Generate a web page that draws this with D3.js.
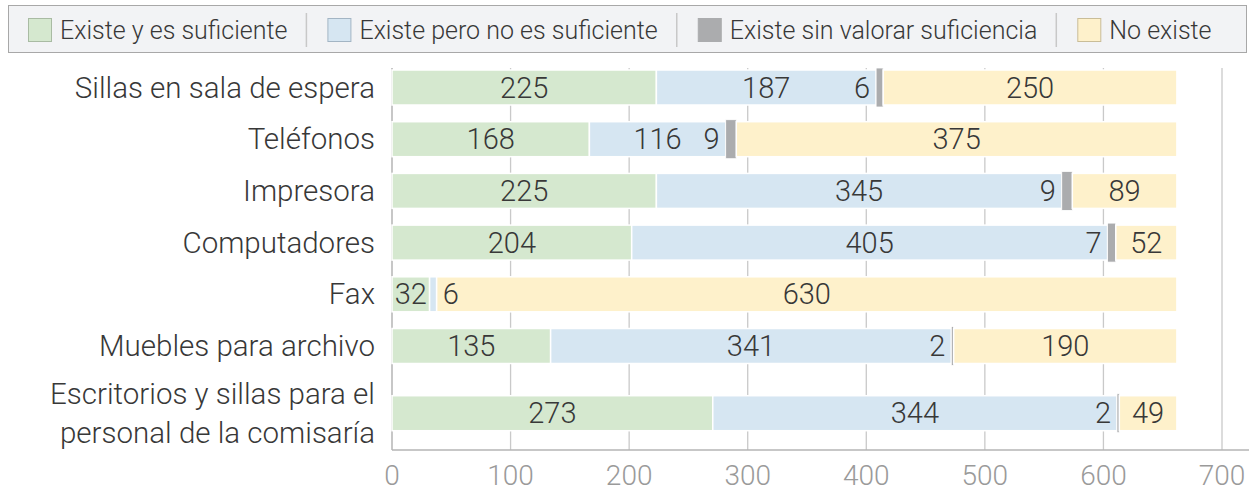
<!DOCTYPE html>
<html>
<head>
<meta charset="utf-8">
<script src="https://cdn.jsdelivr.net/npm/d3@7/dist/d3.min.js"></script>
<style>
  html, body { margin: 0; padding: 0; background: #fff; }
  svg { display: block; }
</style>
</head>
<body>
<div id="chart"></div>
<script>
// ── data ───────────────────────────────────────────────────────────────
var categories = [
    'Sillas en sala de espera',
    'Teléfonos',
    'Impresora',
    'Computadores',
    'Fax',
    'Muebles para archivo',
    'Escritorios y sillas para el\npersonal de la comisaría'
];
var seriesNames = [
    'Existe y es suficiente',
    'Existe pero no es suficiente',
    'Existe sin valorar suficiencia',
    'No existe'
];
var suficiente    = [225, 168, 225, 204, 32, 135, 273];
var noSuficiente  = [187, 116, 345, 405, 6, 341, 344];
var sinValorar    = [6, 9, 9, 7, 0, 2, 2];
var noExiste      = [250, 375, 89, 52, 630, 190, 49];
var xTicks        = [0, 100, 200, 300, 400, 500, 600, 700];

(function () {
    // ── theme ──────────────────────────────────────────────────────────
    var c = {
        fills:    ['#d5e8cf', '#d6e6f2', '#abacae', '#fef1cb'],
        swStroke: ['#a9bba3', '#a3b5c4', '#abacae', '#c9bd98'],
        text:     '#383838',
        tick:     '#9a9a9a',
        grid:     '#c9c9c9',
        axis:     '#b4b4b4',
        legBg:    '#f2f3f5',
        legLine:  '#a8a8a8',
        legSep:   '#c8c8c8'
    };
    var font = 'Roboto, "Liberation Sans", sans-serif';

    // ── geometry ───────────────────────────────────────────────────────
    var W = 1255, H = 492;
    var x0 = 392, x1 = 1222, axisEnd = 1249;
    var plotTop = 68, axisY = 450;
    var barH = 35;

    var series = [suficiente, noSuficiente, sinValorar, noExiste];
    var rows = categories.map(function (cat, i) {
        var lines = cat.split('\n');
        return {
            cat: cat,
            lines: lines,
            weight: 1 + 0.6 * (lines.length - 1),
            values: series.map(function (s) { return s[i]; })
        };
    });
    var acc = 0;
    rows.forEach(function (r) { r.u = acc + r.weight / 2; acc += r.weight; });

    // axis scale, and the (slightly tighter) scale the bars are laid out on
    var x    = d3.scaleLinear().domain([0, 700]).range([x0, x1]);
    var xBar = d3.scaleLinear().domain([0, 700]).range([x0, x0 + 822.5]);
    var y    = d3.scaleLinear().domain([0.5, 5.5]).range([87.5, 346]);

    var svg = d3.select('#chart').append('svg')
        .attr('width', W).attr('height', H)
        .attr('viewBox', '0 0 ' + W + ' ' + H);

    // ── gridlines + axes ───────────────────────────────────────────────
    svg.append('g').selectAll('line').data(xTicks.slice(1)).join('line')
        .attr('x1', function (d) { return x(d); }).attr('x2', function (d) { return x(d); })
        .attr('y1', plotTop).attr('y2', axisY)
        .attr('stroke', c.grid).attr('stroke-width', 1.3);

    svg.append('line')
        .attr('x1', x0).attr('x2', x0).attr('y1', plotTop).attr('y2', axisY)
        .attr('stroke', c.axis).attr('stroke-width', 1.5);
    svg.append('line')
        .attr('x1', x0).attr('x2', axisEnd).attr('y1', axisY).attr('y2', axisY)
        .attr('stroke', c.axis).attr('stroke-width', 1.5);

    svg.append('g').selectAll('text').data(xTicks).join('text')
        .attr('x', function (d) { return x(d); }).attr('y', 485)
        .attr('text-anchor', 'middle')
        .attr('font-family', font).attr('font-weight', 300).attr('font-size', '28px')
        .attr('fill', c.tick)
        .text(function (d) { return d; });

    // ── bars ───────────────────────────────────────────────────────────
    var barG = svg.append('g');
    var labG = svg.append('g');
    rows.forEach(function (r) {
        var cy = y(r.u);
        var start = 0;
        r.values.forEach(function (v, si) {
            var a = start, b = start + v;
            start = b;
            if (!v) return;
            var xa = xBar(a), xb = xBar(b);
            var tall = si === 2 ? 2 : 0;
            barG.append('rect')
                .attr('x', xa).attr('y', cy - barH / 2 - tall)
                .attr('width', xb - xa).attr('height', barH + 2 * tall)
                .attr('fill', c.fills[si])
                .attr('stroke', '#fff').attr('stroke-width', si === 2 ? 0.8 : 1.5);

            var t = labG.append('text')
                .attr('y', cy)
                .attr('dominant-baseline', 'central')
                .attr('font-family', font).attr('font-weight', 300).attr('font-size', '29px')
                .attr('fill', c.text)
                .text(v);
            if (si === 2) {
                t.attr('x', xa - 6).attr('text-anchor', 'end');
            } else if (xb - xa < 20) {
                t.attr('x', xb + 6).attr('text-anchor', 'start');
            } else {
                t.attr('x', (xa + xb) / 2).attr('text-anchor', 'middle');
            }
        });

        // category label
        var lab = labG.append('text')
            .attr('x', 375).attr('text-anchor', 'end')
            .attr('font-family', font).attr('font-weight', 300).attr('font-size', '29.5px')
            .attr('fill', c.text);
        var lh = 39;
        r.lines.forEach(function (ln, li) {
            lab.append('tspan')
                .attr('x', 375)
                .attr('y', cy + (li - (r.lines.length - 1) / 2) * lh)
                .attr('dominant-baseline', 'central')
                .text(ln);
        });
    });

    // ── legend ─────────────────────────────────────────────────────────
    var leg = svg.append('g');
    leg.append('rect')
        .attr('x', 8.5).attr('y', 5.5).attr('width', 1238).attr('height', 47)
        .attr('fill', c.legBg).attr('stroke', c.legLine).attr('stroke-width', 1);

    var lx = 28;
    seriesNames.forEach(function (name, i) {
        if (i > 0) {
            leg.append('line')
                .attr('x1', lx).attr('x2', lx).attr('y1', 13).attr('y2', 47)
                .attr('stroke', c.legSep).attr('stroke-width', 1.5);
            lx += 21;
        }
        leg.append('rect')
            .attr('x', lx + 0.5).attr('y', 18.5).attr('width', 23).attr('height', 23)
            .attr('fill', c.fills[i]).attr('stroke', c.swStroke[i]).attr('stroke-width', 1);
        var t = leg.append('text')
            .attr('x', lx + 32).attr('y', 30)
            .attr('dominant-baseline', 'central')
            .attr('font-family', font).attr('font-weight', 300).attr('font-size', '25px')
            .attr('fill', c.text)
            .text(name);
        lx += 32 + t.node().getComputedTextLength() + 19;
    });
})();
</script>
</body>
</html>
